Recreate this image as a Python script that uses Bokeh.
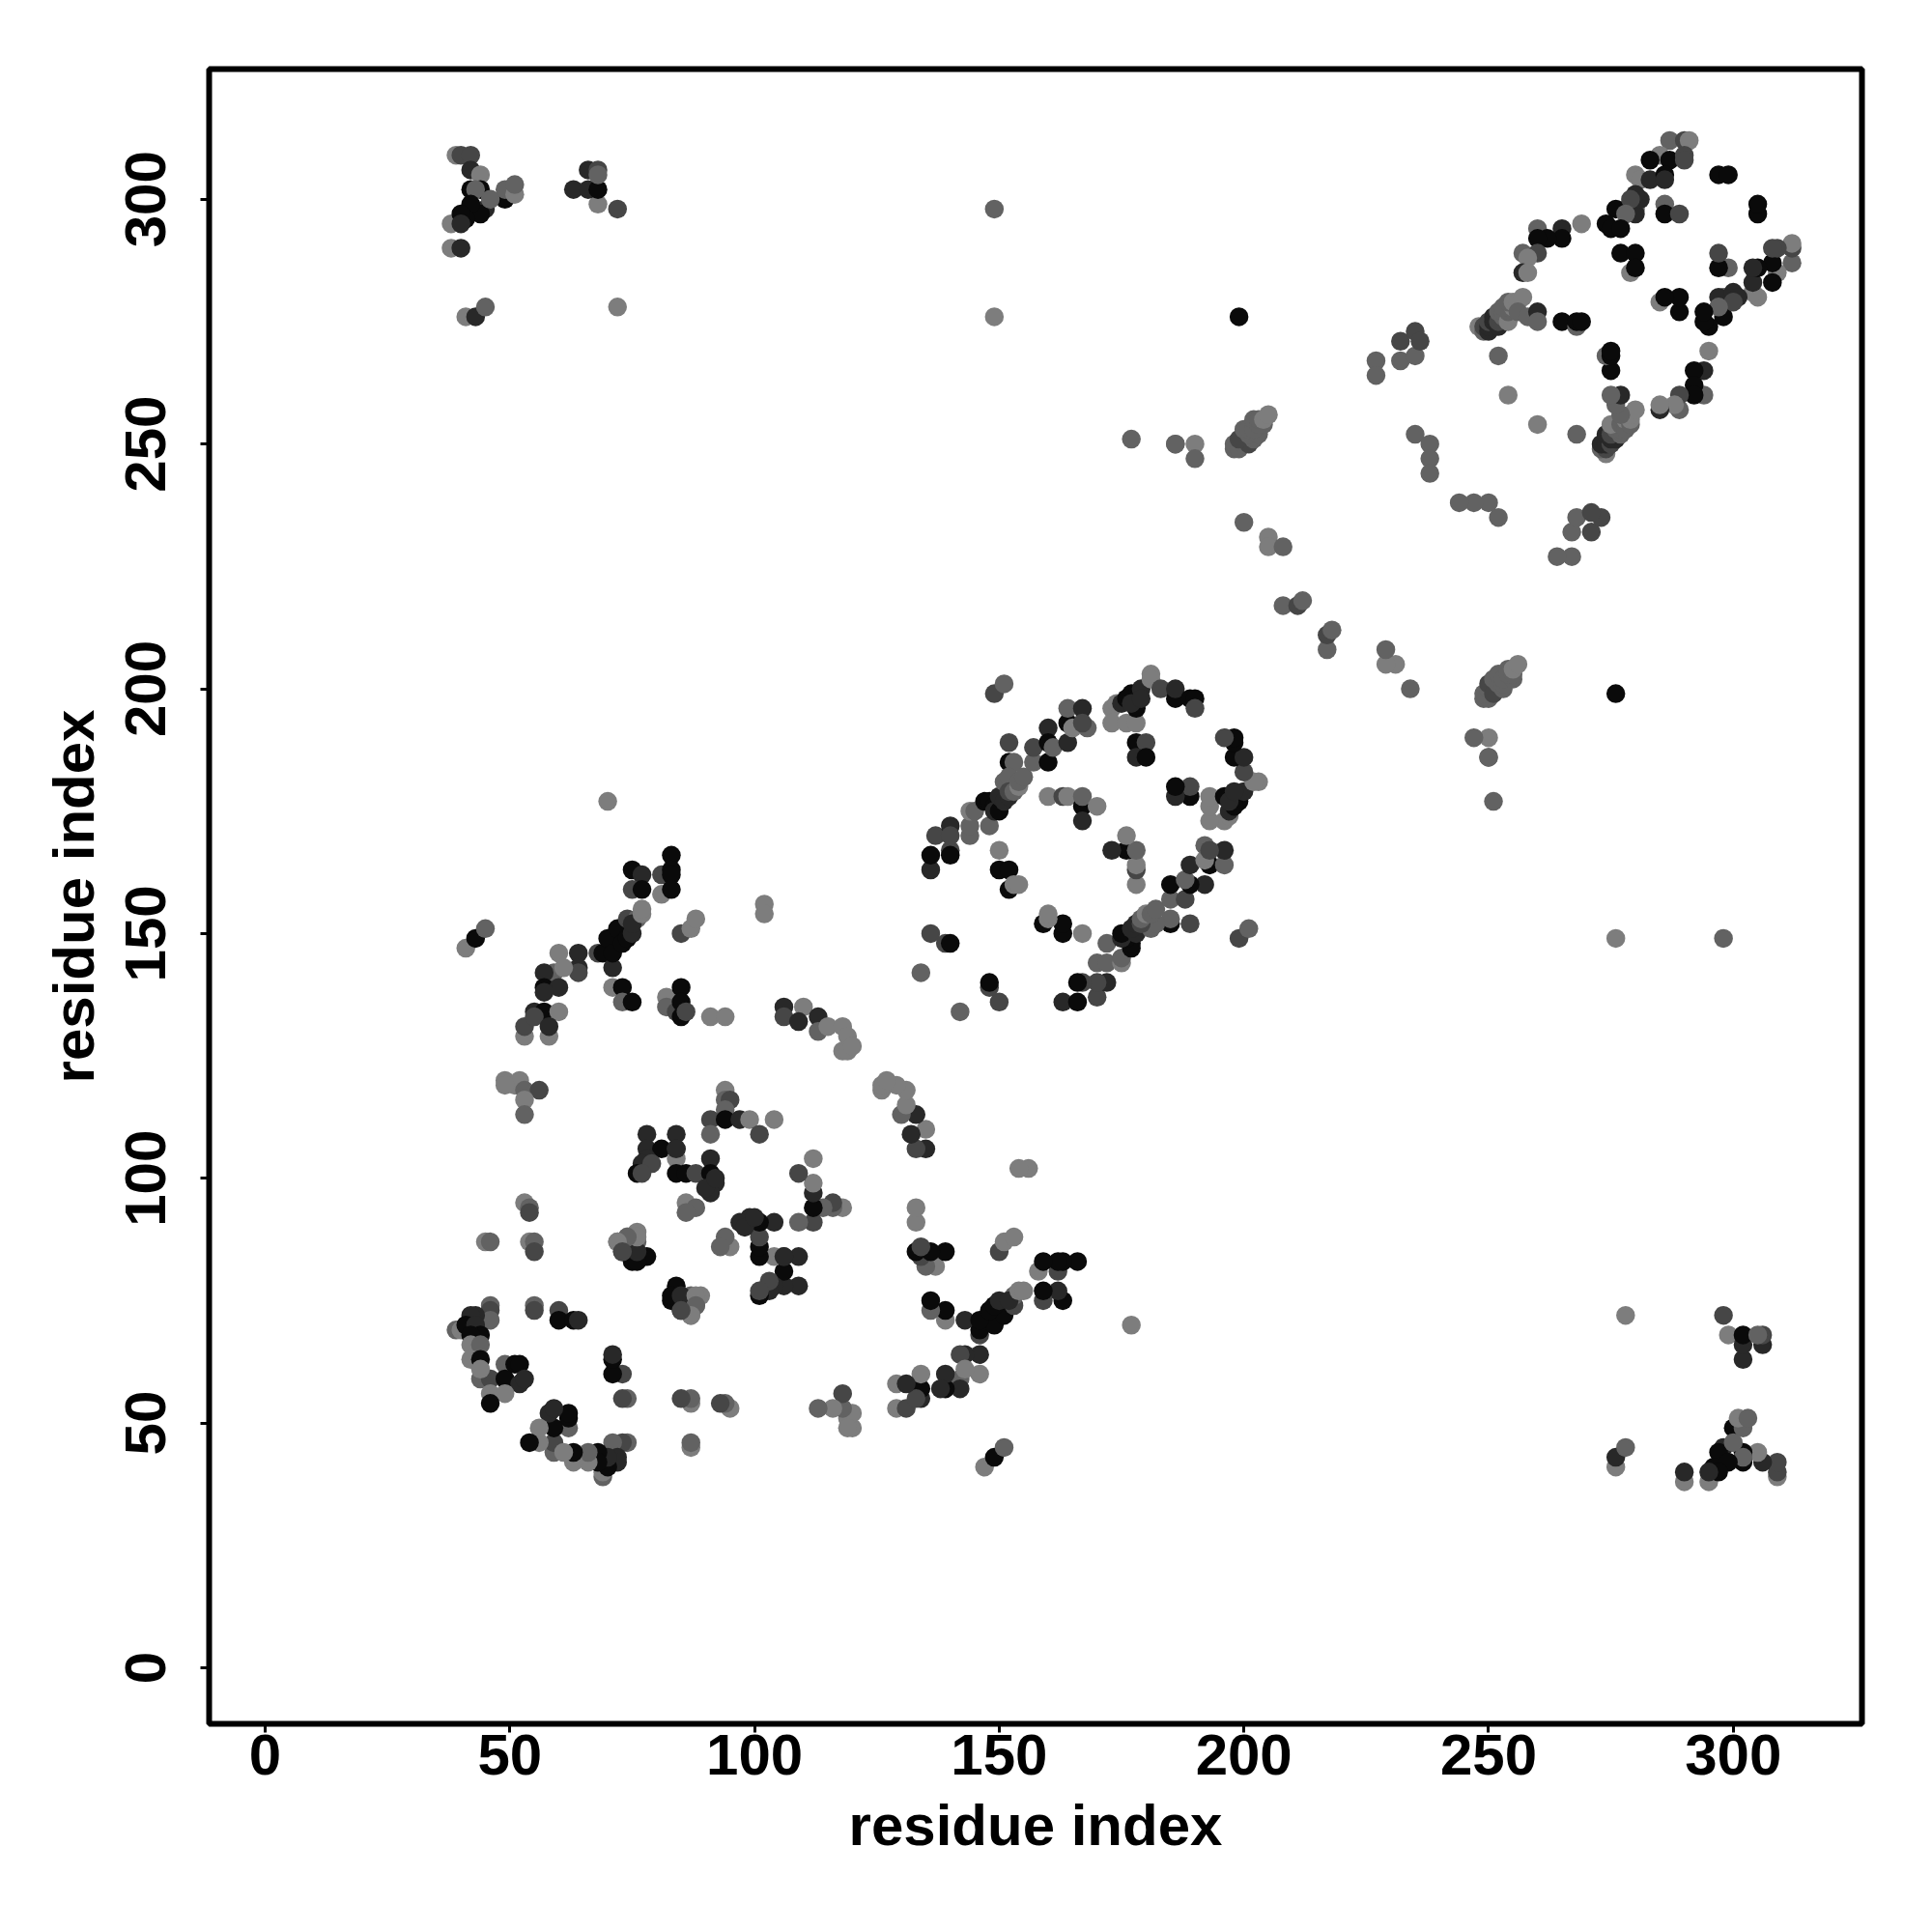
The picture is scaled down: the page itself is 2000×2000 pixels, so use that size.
from bokeh.plotting import figure
from bokeh.models import ColumnDataSource, FixedTicker, Range1d
from bokeh.embed import file_html
from bokeh.resources import INLINE

# the map is symmetric, so each contact is also shown at (j, i)
termini = [(39,309,5),(40,309,3),(42,309,3),(42,306,2),(44,305,5),(42,302,1),(44,302,1),(43,302,4),(49,300,1),(49,302,4),
           (51,301,5),(51,303,4),(45,298,2),(44,297,1),(42,299,1),(41,296,1),(38,295,5),(40,297,1),(40,295,2),(46,300,4),
           (38,290,5),(40,290,2),(41,276,5),(43,276,2),(45,278,4),(72,278,5),(72,298,3),(68,299,5),(63,302,2),(66,306,2),
           (66,302,2),(68,302,1),(68,306,3),(68,305,4)]
long_range = [(149,298,4),(149,276,5),(199,276,1),(41,147,5),(43,149,1),(45,151,4),(70,177,5),(102,156,5),(102,154,5),
              (177,251,4),(186,250,4),(190,250,5),(190,247,4),(186,250,4)]
strand_a = [(60,146,5),(64,146,2),(64,143,2),(64,142,3),(59,142,4),(61,143,5),(57,142,2),(57,139,1),(60,139,2),(57,138,2),
            (55,134,2),(57,134,1),(60,134,5),(53,129,5),(58,129,5),(53,131,3),(55,133,3),(58,131,2)]
strand_b = [(68,146,3),(69,146,1),(70,149,1),(72,151,1),(71,143,2),(71,146,1),(73,148,1),(74,149,1),(75,150,2),(74,153,3),
            (76,153,4),(75,152,2),(77,154,5),(77,155,5),(75,163,1),(77,162,2),(75,159,3),(77,159,1),(81,162,3),(81,158,5),
            (83,166,1),(83,163,1),(83,162,1),(83,159,1),(85,150,3),(87,151,5),(88,153,5)]
strand_c = [(71,139,5),(73,139,1),(73,136,4),(75,136,1),(82,137,5),(82,135,4),(84,134,3),(85,133,1),(85,139,1),(85,136,1),
            (86,134,3),(91,133,5),(94,133,5),(106,135,2),(106,133,3),(110,135,5),(109,132,2),(113,133,2),(113,130,4),
            (115,131,5),(118,131,5),(119,129,5),(118,126,5),(119,126,5),(120,127,5)]
core_low = [(49,120,5),(51,119,5),(52,120,5),(49,119,5),(53,118,4),(56,118,3),(53,116,5),(53,113,4),
            (94,118,5),(94,116,4),(95,116,3),(94,114,4),(91,112,3),(94,112,1),(97,112,2),(99,112,5),(104,112,5),(91,109,4),(101,109,3),
            (78,109,2),(84,109,2),(78,106,2),(81,106,1),(84,106,2),(78,104,2),(77,103,2),(79,103,3),(76,101,1),(77,101,3),(84,104,5),
            (84,101,1),(86,101,1),(91,104,2),(88,101,3),(91,101,1),(92,99,2),(91,97,2),(90,98,2),(92,100,2),(86,95,5),(88,94,4),(86,93,4),
            (53,95,5),(54,94,4),(54,93,3),(45,87,5),(46,87,4),(54,87,5),(55,87,4),(55,85,3)]
core_mid = [(72,87,5),(74,88,5),(76,89,5),(76,87,4),(73,85,2),(75,85,1),(75,83,1),(78,84,1),
            (76,83,1),(76,85,2),(76,88,5),(74,88,4),(72,87,5),(73,85,3),(84,106,2),
            (46,74,4),(46,73,3),(46,71,4),(43,72,2),(42,72,2),(39,69,4),(40,69,5),(41,70,1),(43,70,2),(44,68,1),(42,68,1),
            (42,66,5),(44,66,4),(42,63,5),(44,63,1),(49,62,4),(51,62,1),(52,62,1),(44,59,4),(46,59,3),(49,59,1),(52,58,2),(53,59,2),
            (46,56,5),(49,56,5),(46,54,1),(55,74,4),(55,73,3),(60,73,3),(60,71,1),(63,71,1),(64,71,2),(44,61,5)]
domain_mid = [(136,163,2),(136,166,1),(137,170,3),(140,172,2),(140,170,3),(140,167,3),(140,166,1),(144,170,4),(144,172,4),
              (144,175,5),(148,172,4),(145,175,4),(147,177,1),(148,177,1),(150,177,1),(149,176,1),(149,175,2),(150,175,1),(150,178,2),(151,177,2),
              (152,189,3),(152,185,1),(152,178,2),(151,181,4),(153,185,4),(152,182,4),(152,179,3),(153,179,4),(154,180,5),(154,181,4),(155,182,4),(157,185,4),(157,188,3),(160,185,1),
              (160,192,2),(160,189,1),(161,188,4),(164,189,2),(164,193,1),(164,196,4),(165,192,5),(167,196,2),(168,192,4),
              (167,193,3),(160,178,5),(163,178,3),(164,178,5),(167,176,1),(167,178,4),(170,176,5),(167,173,2),
              (173,196,5),(173,193,5),(174,197,5),(176,193,5),(178,193,5),(175,197,2),(178,196,1),(177,199,1),(176,198,1),(177,197,2),(179,200,2),
              (179,198,2),(181,203,5),(181,202,5),(183,200,3),(186,198,1),(186,200,2),(189,198,1),(190,198,1),(190,196,3),
              (178,189,1),(180,189,3),(178,186,2),(180,186,1),(149,199,3),(151,201,4),
              (150,167,5),(150,163,1),(152,163,1),(152,159,1),(153,160,5),(154,160,5),(136,150,3),(139,148,3),(140,148,1),(134,142,4)]
linker = [(198,249,4),(199,250,3),(198,250,4),(199,249,4),(200,251,3),(200,250,4),(201,250,3),(199,251,3),(202,251,4),(200,253,4),(201,252,4),(203,252,4),(201,253,4),(202,253,4),
          (204,254,4),(202,255,4),(203,254,4),(203,255,4),(204,255,5),(205,256,5),
          (200,234,4),(205,231,5),(205,229,5),(208,229,4),(208,217,4),(211,217,3),(212,218,4),
          (227,267,4),(227,264,4),(232,271,3),(232,267,4),(235,273,3),(235,268,4),(236,271,3),(235,252,4),(238,250,4),(238,247,4),(238,244,4)]
domain_high = [(287,312,4),(290,312,3),(291,312,5),(285,309,5),(283,308,1),(287,308,1),(290,309,3),(290,308,3),
               (280,305,5),(281,304,5),(283,304,2),(286,305,1),(286,304,2),(279,299,5),(280,298,4),(278,298,4),(276,298,1),(280,297,2),(281,300,2),(280,301,2),(279,300,3),(278,297,4),
               (274,295,1),(275,294,1),(277,294,1),(286,299,4),(286,297,1),(289,297,3),(297,305,1),(299,305,1),
               (269,295,5),(260,294,4),(265,294,2),(265,292,1),(262,292,1),(260,292,1),(257,289,4),(260,289,3),(258,288,5),(257,285,2),(258,285,5),
               (277,289,1),(280,289,1),(279,285,5),(280,286,1),
               (248,274,5),(249,273,4),(249,274,3),(250,273,2),(250,274,2),(250,275,3),(251,275,2),(252,274,2),(251,276,2),(252,275,3),(252,277,4),(253,276,4),(253,277,4),(254,275,5),(254,277,4),
               (253,278,4),(255,278,5),(254,279,4),(255,279,5),(256,279,5),(257,280,5),(256,277,4),(258,276,4),
               (260,277,2),(260,275,4),(265,275,1),(268,274,4),(268,275,1),(269,275,1),(252,268,4),(254,260,5)]

clusters = [termini, long_range, strand_a, strand_b, strand_c, core_low, core_mid, domain_mid, linker, domain_high]

x_ticks = [0, 50, 100, 150, 200, 250, 300]
y_ticks = [0, 50, 100, 150, 200, 250, 300]
x_title = "residue index"
y_title = "residue index"

GRAYS = {1: "#0a0a0a", 2: "#282828", 3: "#464646", 4: "#626262", 5: "#7d7d7d"}

xs, ys, colors = [], [], []
for cluster in clusters:
    for i, j, band in cluster:
        xs += [i, j]
        ys += [j, i]
        colors += [GRAYS[band], GRAYS[band]]
source = ColumnDataSource(dict(x=xs, y=ys, color=colors))

p = figure(width=1992, height=1992, output_backend="svg", toolbar_location=None,
           x_range=Range1d(-11.45, 326.3), y_range=Range1d(-11.45, 326.6),
           min_border_left=216, min_border_right=65, min_border_top=71, min_border_bottom=208)
p.grid.visible = False
p.outline_line_color = "black"
p.outline_line_width = 6
p.background_fill_color = "white"
p.border_fill_color = "white"

p.scatter("x", "y", source=source, size=19.5, fill_color="color", line_color=None, marker="circle")

for axis, ticks, title in ((p.xaxis[0], x_ticks, x_title), (p.yaxis[0], y_ticks, y_title)):
    axis.ticker = FixedTicker(ticks=ticks)
    axis.axis_label = title
    axis.axis_label_text_font = "Liberation Sans"
    axis.axis_label_text_font_style = "bold"
    axis.axis_label_text_font_size = "60px"
    axis.axis_label_text_color = "black"
    axis.major_label_text_font = "Liberation Sans"
    axis.major_label_text_font_style = "bold"
    axis.major_label_text_font_size = "60px"
    axis.major_label_text_color = "black"
    axis.axis_line_color = None
    axis.major_tick_line_color = "black"
    axis.major_tick_line_width = 3
    axis.major_tick_out = 9
    axis.major_tick_in = 0
    axis.minor_tick_line_color = None

p.xaxis[0].major_label_standoff = 2
p.xaxis[0].axis_label_standoff = 16
p.yaxis[0].major_label_orientation = "vertical"
p.yaxis[0].major_label_standoff = 36
p.yaxis[0].axis_label_standoff = 18

open("out.html", "w").write(file_html(p, INLINE))
